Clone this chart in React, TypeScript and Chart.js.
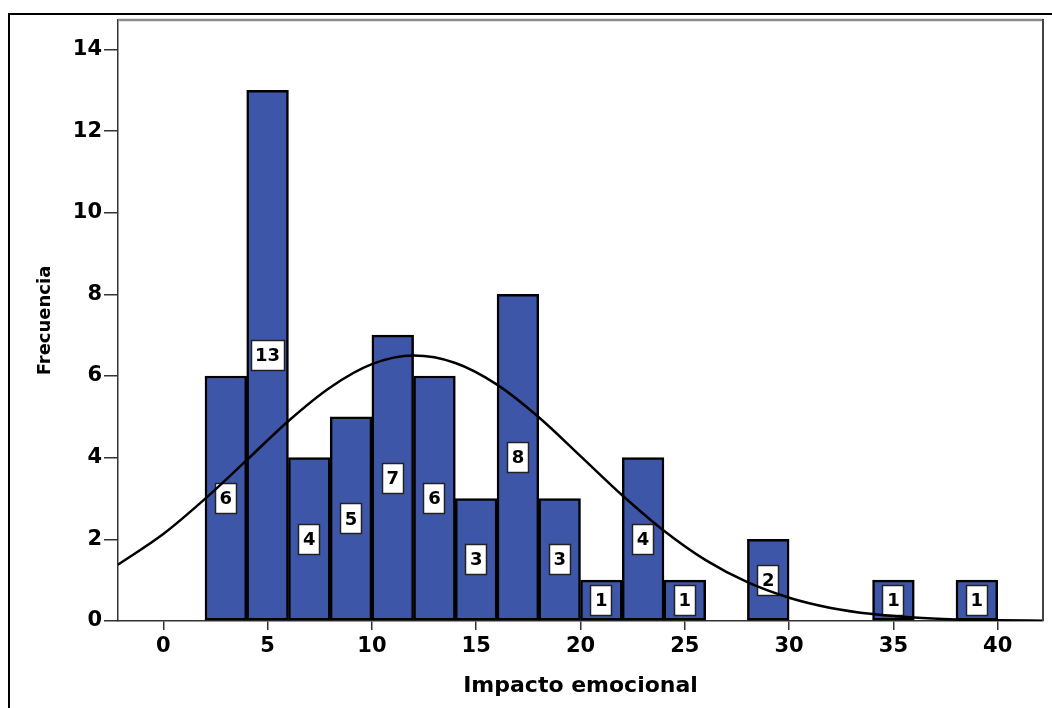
import React, { useEffect, useRef } from "react";
import { Chart, registerables } from "chart.js";

Chart.register(...registerables);

// Histogram bins (centre of each 2-unit bin) and frequencies
const binCenters = [3, 5, 7, 9, 11, 13, 15, 17, 19, 21, 23, 25, 29, 35, 39];
const frequencies = [6, 13, 4, 5, 7, 6, 3, 8, 3, 1, 4, 1, 2, 1, 1];

// Normal curve
const curveX = [-2.17, 0, 2, 4, 6, 8, 10, 12, 14, 16, 18, 20, 22, 24, 26, 28, 30, 32, 34, 36, 38, 40, 42.17];
const curveY = [1.38, 2.13, 2.99, 3.94, 4.9, 5.72, 6.29, 6.5, 6.32, 5.79, 4.99, 4.04, 3.08, 2.21, 1.49, 0.95, 0.57, 0.32, 0.17, 0.084, 0.039, 0.017, 0.007];

const xTickValues = [0, 5, 10, 15, 20, 25, 30, 35, 40];
const yTickValues = [0, 2, 4, 6, 8, 10, 12, 14];

const xTitle = "Impacto emocional";
const yTitle = "Frecuencia";

const FONT = "'DejaVu Sans', sans-serif";

const labelPlugin = {
  id: "barLabels",
  afterDatasetDraw(chart: any, args: any) {
    if (args.index !== 0) return;
    const ctx = chart.ctx;
    const yScale = chart.scales.y;
    ctx.save();
    ctx.font = `bold 18px ${FONT}`;
    ctx.textAlign = "center";
    ctx.textBaseline = "middle";
    args.meta.data.forEach((el: any, i: number) => {
      const v = frequencies[i];
      const text = String(v);
      const cx = el.x;
      const cy = yScale.getPixelForValue(v / 2);
      const w = Math.round(ctx.measureText(text).width + 9);
      const h = 31;
      const left = Math.round(cx - w / 2);
      const top = Math.round(cy - h / 2);
      ctx.fillStyle = "#ffffff";
      ctx.fillRect(left, top, w, h);
      ctx.strokeStyle = "#222222";
      ctx.lineWidth = 1.5;
      ctx.strokeRect(left + 0.5, top + 0.5, w - 1, h - 1);
      ctx.fillStyle = "#000000";
      ctx.fillText(text, cx, cy + 1);
    });
    ctx.restore();
  },
};

const framePlugin = {
  id: "frames",
  beforeDraw(chart: any) {
    const ctx = chart.ctx;
    ctx.save();
    ctx.fillStyle = "#ffffff";
    ctx.fillRect(0, 0, chart.width, chart.height);
    ctx.restore();
  },
  afterDraw(chart: any) {
    const { ctx, chartArea } = chart;
    ctx.save();
    ctx.strokeStyle = "#000000";
    ctx.lineWidth = 2;
    ctx.beginPath();
    ctx.moveTo(9, chart.height + 5);
    ctx.lineTo(9, 14);
    ctx.lineTo(chart.width + 5, 14);
    ctx.stroke();

    ctx.strokeStyle = "#8c8c8c";
    ctx.lineWidth = 2.5;
    ctx.beginPath();
    ctx.moveTo(chartArea.left, chartArea.top);
    ctx.lineTo(chartArea.right, chartArea.top);
    ctx.stroke();

    ctx.strokeStyle = "#444444";
    ctx.lineWidth = 2;
    ctx.beginPath();
    ctx.moveTo(chartArea.right, chartArea.top - 1);
    ctx.lineTo(chartArea.right, chartArea.bottom);
    ctx.stroke();
    ctx.restore();
  },
};

export default function App() {
  const canvasRef = useRef<HTMLCanvasElement | null>(null);

  useEffect(() => {
    if (!canvasRef.current) return;
    const chart = new Chart(canvasRef.current, {
      type: "bar",
      data: {
        datasets: [
          {
            type: "bar",
            data: binCenters.map((x, i) => ({ x, y: frequencies[i] })),
            backgroundColor: "#3e56a8",
            borderColor: "#000000",
            borderWidth: 2.5,
            borderSkipped: false,
            barPercentage: 1,
            categoryPercentage: 1,
            order: 1,
          } as any,
          {
            type: "line",
            data: curveX.map((x, i) => ({ x, y: curveY[i] })),
            borderColor: "#000000",
            borderWidth: 2.5,
            pointRadius: 0,
            fill: false,
            cubicInterpolationMode: "monotone",
            order: 0,
          } as any,
        ],
      },
      options: {
        responsive: false,
        animation: false,
        events: [],
        layout: { padding: { left: 0, top: 20, right: 9, bottom: 0 } },
        plugins: {
          legend: { display: false },
          tooltip: { enabled: false },
        },
        scales: {
          x: {
            type: "linear",
            min: -2.17,
            max: 42.17,
            offset: false,
            afterBuildTicks: (s: any) => {
              s.ticks = xTickValues.map((v) => ({ value: v }));
            },
            afterFit: (s: any) => {
              s.height = 87;
            },
            grid: {
              offset: false,
              drawOnChartArea: false,
              drawTicks: true,
              tickLength: 9,
              color: "#333333",
              lineWidth: 1.5,
            },
            border: { display: true, color: "#333333", width: 1.5 },
            ticks: {
              padding: 4,
              color: "#000000",
              autoSkip: false,
              maxRotation: 0,
              font: { family: FONT, size: 21, weight: "bold" },
            },
            title: {
              display: true,
              text: xTitle,
              color: "#000000",
              font: { family: FONT, size: 22, weight: "bold" },
              padding: { top: 0, bottom: 9 },
            },
          } as any,
          y: {
            type: "linear",
            min: 0,
            max: 14.72,
            afterBuildTicks: (s: any) => {
              s.ticks = yTickValues.map((v) => ({ value: v }));
            },
            afterFit: (s: any) => {
              s.width = 118;
            },
            grid: {
              drawOnChartArea: false,
              drawTicks: true,
              tickLength: 14,
              color: "#333333",
              lineWidth: 1.5,
            },
            border: { display: true, color: "#333333", width: 1.5 },
            ticks: {
              padding: 2,
              color: "#000000",
              font: { family: FONT, size: 21, weight: "bold" },
            },
            title: {
              display: true,
              text: yTitle,
              color: "#000000",
              font: { family: FONT, size: 18, weight: "bold" },
              padding: { top: 35, bottom: 0 },
            },
          } as any,
        },
      },
      plugins: [labelPlugin, framePlugin],
    });
    return () => chart.destroy();
  }, []);

  return (
    <div style={{ position: "fixed", left: 0, top: 0, width: 1052, height: 708, background: "#fff" }}>
      <canvas ref={canvasRef} width={1052} height={708} style={{ display: "block" }} />
    </div>
  );
}
